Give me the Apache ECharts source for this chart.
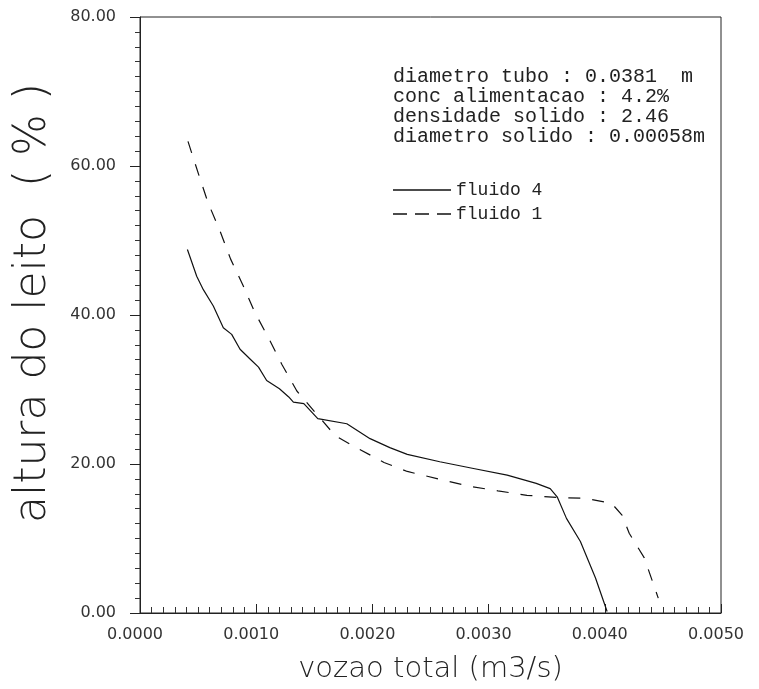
<!DOCTYPE html>
<html>
<head>
<meta charset="utf-8">
<script src="https://cdn.jsdelivr.net/npm/echarts@6/dist/echarts.min.js"></script>
<style>html,body{margin:0;padding:0;background:#fff}#c{width:759px;height:689px}</style>
</head>
<body>
<div id="c"></div>
<script>
// x: vazao total (m3/s), y: altura do leito (%)
const fluido4X = [0.000408,0.000488,0.000545,0.000631,0.000717,0.000789,0.000861,0.000947,0.00102,0.00109,0.00120,0.00128,0.00132,0.00141,0.00153,0.00178,0.00198,0.00215,0.0023,0.00258,0.00287,0.00316,0.00341,0.00353,0.00359,0.00367,0.00379,0.00392,0.00402];
const fluido4Y = [48.8,45.2,43.4,41.2,38.3,37.4,35.4,34.1,33.0,31.2,30.1,29.0,28.3,28.1,26.1,25.4,23.4,22.2,21.3,20.3,19.4,18.5,17.4,16.7,15.6,12.7,9.6,4.7,0.2];
const fluido1X = [0.000413,0.000508,0.000585,0.000688,0.000780,0.000889,0.00099,0.00111,0.00122,0.00135,0.00168,0.00185,0.0021,0.0023,0.00262,0.00284,0.00308,0.00333,0.00359,0.00383,0.00406,0.00415,0.00421,0.00434,0.00444,0.00446];
const fluido1Y = [63.3,58.7,55.1,51.3,47.5,43.9,40.3,36.8,33.4,29.8,23.8,22.3,20.2,19.0,17.8,17.0,16.4,15.8,15.5,15.4,14.7,13.1,10.7,7.4,2.9,2.0];
const infoLines = ['diametro tubo : 0.0381  m','conc alimentacao : 4.2%','densidade solido : 2.46','diametro solido : 0.00058m'];
const seriesNames = ['fluido 4','fluido 1'];
const xTitle = 'vozao total (m3/s)';
const yTitle = 'altura do leito  ( % )';

const pairs = (xs, ys) => xs.map((x, i) => [x, ys[i]]);
const font = 'DejaVu Sans';
const mono = 'Liberation Mono';
const chart = echarts.init(document.getElementById('c'));
chart.setOption({
  animation: false,
  backgroundColor: '#fff',
  grid: {left: 140, right: 38, top: 17, bottom: 74, show: true, borderColor: '#222', borderWidth: 1},
  legend: {
    orient: 'vertical', left: 388, top: 176, itemWidth: 58, itemHeight: 14, itemGap: 6,
    symbolKeepAspect: true,
    data: [
      {name: seriesNames[0], icon: 'path://M0,0h58v1.4h-58z'},
      {name: seriesNames[1], icon: 'path://M0,0h14v1.4h-14zM22,0h14v1.4h-14zM44,0h14v1.4h-14z'}
    ],
    itemStyle: {color: '#111'},
    textStyle: {fontFamily: mono, fontSize: 18, color: '#222'}
  },
  graphic: infoLines.map((t, i) => ({
    type: 'text', left: 393, top: 67 + i * 20,
    style: {text: t, font: '20px "Liberation Mono"', fill: '#222'}
  })),
  xAxis: {
    type: 'value', min: 0, max: 0.005, interval: 0.001,
    name: xTitle, nameLocation: 'middle', nameGap: 42,
    nameTextStyle: {fontFamily: font, fontSize: 29, color: '#222', fontWeight: 'lighter'},
    axisLine: {lineStyle: {color: '#222', width: 1}},
    axisTick: {inside: true, length: 9, lineStyle: {color: '#222'}},
    minorTick: {show: true, splitNumber: 10, length: 6, lineStyle: {color: '#333'}},
    splitLine: {show: false},
    axisLabel: {formatter: v => v.toFixed(4), fontFamily: font, fontSize: 16, color: '#333', margin: 14, padding: [0, 10, 0, 0]}
  },
  yAxis: {
    type: 'value', min: 0, max: 80, interval: 20,
    name: yTitle, nameLocation: 'middle', nameGap: 84, nameRotate: 90,
    nameTextStyle: {fontFamily: font, fontSize: 44, color: '#222', fontWeight: 'lighter', padding: [0, 0, 0, 24]},
    axisLine: {lineStyle: {color: '#222', width: 1}},
    axisTick: {inside: false, length: 10, lineStyle: {color: '#222'}},
    minorTick: {show: true, splitNumber: 10, length: 5, lineStyle: {color: '#333'}},
    splitLine: {show: false},
    axisLabel: {formatter: v => v.toFixed(2), fontFamily: font, fontSize: 16, color: '#333', margin: 24}
  },
  series: [
    {name: seriesNames[0], type: 'line', data: pairs(fluido4X, fluido4Y), showSymbol: false, symbol: 'none',
     lineStyle: {color: '#111', width: 1.2}, itemStyle: {color: '#111'}},
    {name: seriesNames[1], type: 'line', data: pairs(fluido1X, fluido1Y), showSymbol: false, symbol: 'none',
     lineStyle: {color: '#111', width: 1.2, type: [12, 12]}, itemStyle: {color: '#111'}}
  ]
});
</script>
</body>
</html>
